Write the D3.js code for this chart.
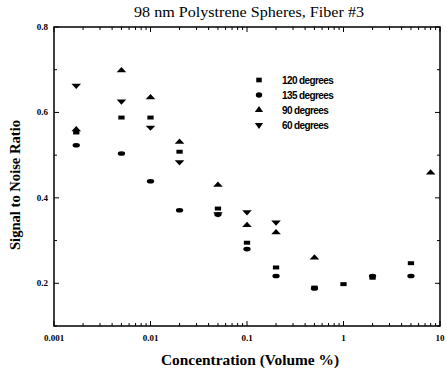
<!DOCTYPE html>
<html><head><meta charset="utf-8">
<script src="https://cdn.jsdelivr.net/npm/d3@7"></script>
<style>body{margin:0;background:#fff}svg{display:block}</style>
</head><body><svg id="c" width="447" height="374"></svg>
<script>
const seriesNames = ["120 degrees","135 degrees","90 degrees","60 degrees"];
const conc120 = [0.0017,0.005,0.01,0.02,0.05,0.1,0.2,0.5,1,2,5];
const snr120  = [0.553,0.588,0.588,0.508,0.375,0.295,0.237,0.190,0.198,0.213,0.247];
const conc135 = [0.0017,0.005,0.01,0.02,0.05,0.1,0.2,0.5,2,5];
const snr135  = [0.523,0.504,0.439,0.371,0.361,0.280,0.217,0.188,0.217,0.217];
const conc90  = [0.0017,0.005,0.01,0.02,0.05,0.1,0.2,0.5,8];
const snr90   = [0.560,0.698,0.635,0.531,0.430,0.336,0.319,0.260,0.459];
const conc60  = [0.0017,0.005,0.01,0.02,0.05,0.1,0.2];
const snr60   = [0.663,0.626,0.565,0.484,0.362,0.367,0.343];
const xTickLabels = ["0.001","0.01","0.1","1","10"];
const yTickLabels = ["0.2","0.4","0.6","0.8"];

const svg = d3.select("#c");
const L=54,R=440,T=27,B=326;
const x = d3.scaleLog().domain([0.001,10]).range([L,R]);
const y = d3.scaleLinear().domain([0.1,0.8]).range([B,T]);
const serif = "'Liberation Serif','Times New Roman',serif";

// frame
svg.append("rect").attr("x",L).attr("y",T).attr("width",R-L).attr("height",B-T)
  .attr("fill","none").attr("stroke","#000").attr("stroke-width",1.5);

// ticks
const majX = xTickLabels.map(Number);
const minX = [];
for (let d=0.001; d<10; d*=10) for (let k=2;k<10;k++) minX.push(d*k);
const g = svg.append("g").attr("stroke","#000").attr("stroke-width",1);
majX.forEach(v=>{
  g.append("line").attr("x1",x(v)).attr("x2",x(v)).attr("y1",B).attr("y2",B-5);
  g.append("line").attr("x1",x(v)).attr("x2",x(v)).attr("y1",T).attr("y2",T+5);
});
minX.forEach(v=>{
  g.append("line").attr("x1",x(v)).attr("x2",x(v)).attr("y1",B).attr("y2",B-3);
  g.append("line").attr("x1",x(v)).attr("x2",x(v)).attr("y1",T).attr("y2",T+3);
});
const majY = yTickLabels.map(Number);
const minY = [0.1,0.3,0.5,0.7];
majY.forEach(v=>{
  g.append("line").attr("x1",L).attr("x2",L+5).attr("y1",y(v)).attr("y2",y(v));
  g.append("line").attr("x1",R).attr("x2",R-5).attr("y1",y(v)).attr("y2",y(v));
});
minY.forEach(v=>{
  g.append("line").attr("x1",L).attr("x2",L+3).attr("y1",y(v)).attr("y2",y(v));
  g.append("line").attr("x1",R).attr("x2",R-3).attr("y1",y(v)).attr("y2",y(v));
});

// tick labels
svg.append("g").selectAll("text").data(xTickLabels).join("text")
  .attr("x",d=>x(+d)).attr("y",341).attr("text-anchor","middle")
  .attr("font-family",serif).attr("font-size",9).attr("font-weight","bold")
  .text(d=>d);
svg.append("g").selectAll("text").data(yTickLabels).join("text")
  .attr("x",48).attr("y",d=>y(+d)+3).attr("text-anchor","end")
  .attr("font-family",serif).attr("font-size",9).attr("font-weight","bold")
  .text(d=>d);

// titles
svg.append("text").attr("x",249).attr("y",17).attr("text-anchor","middle")
  .attr("font-family",serif).attr("font-size",15.5)
  .attr("textLength",230).attr("lengthAdjust","spacingAndGlyphs")
  .text("98 nm Polystrene Spheres, Fiber #3");
svg.append("text").attr("x",250).attr("y",365).attr("text-anchor","middle")
  .attr("font-family",serif).attr("font-size",14.5).attr("font-weight","bold")
  .attr("textLength",178).attr("lengthAdjust","spacingAndGlyphs")
  .text("Concentration (Volume %)");
svg.append("text").attr("transform","translate(20,185) rotate(-90)").attr("text-anchor","middle")
  .attr("font-family",serif).attr("font-size",14).attr("font-weight","bold")
  .attr("textLength",130).attr("lengthAdjust","spacingAndGlyphs")
  .text("Signal to Noise Ratio");

// markers
const shapes = [d3.symbolSquare, d3.symbolCircle, d3.symbolTriangle, d3.symbolTriangle];
const rot = [0,0,0,180];
const sizes = [30,32,30,30];
const sym = i => d3.symbol(shapes[i],sizes[i])();
const data = [[conc120,snr120],[conc135,snr135],[conc90,snr90],[conc60,snr60]];
data.forEach(([cx,cy],i)=>{
  svg.append("g").selectAll("path").data(cx.map((c,j)=>[c,cy[j]])).join("path")
    .attr("d",sym(i))
    .attr("transform",d=>`translate(${x(d[0])},${y(d[1])}) scale(1.15,0.72) rotate(${rot[i]})`)
    .attr("fill","#000");
});

// legend
const lg = svg.append("g");
seriesNames.forEach((n,i)=>{
  const yy = 80 + i*15;
  lg.append("path").attr("d",sym(i))
    .attr("transform",`translate(259,${yy}) scale(1,0.85) rotate(${rot[i]})`).attr("fill","#000");
  lg.append("text").attr("x",282).attr("y",yy+3.5)
    .attr("font-family","'Liberation Sans Narrow','Liberation Sans',sans-serif")
    .attr("font-size",10).attr("font-weight","bold").attr("letter-spacing",-0.6).text(n);
});
</script></body></html>
